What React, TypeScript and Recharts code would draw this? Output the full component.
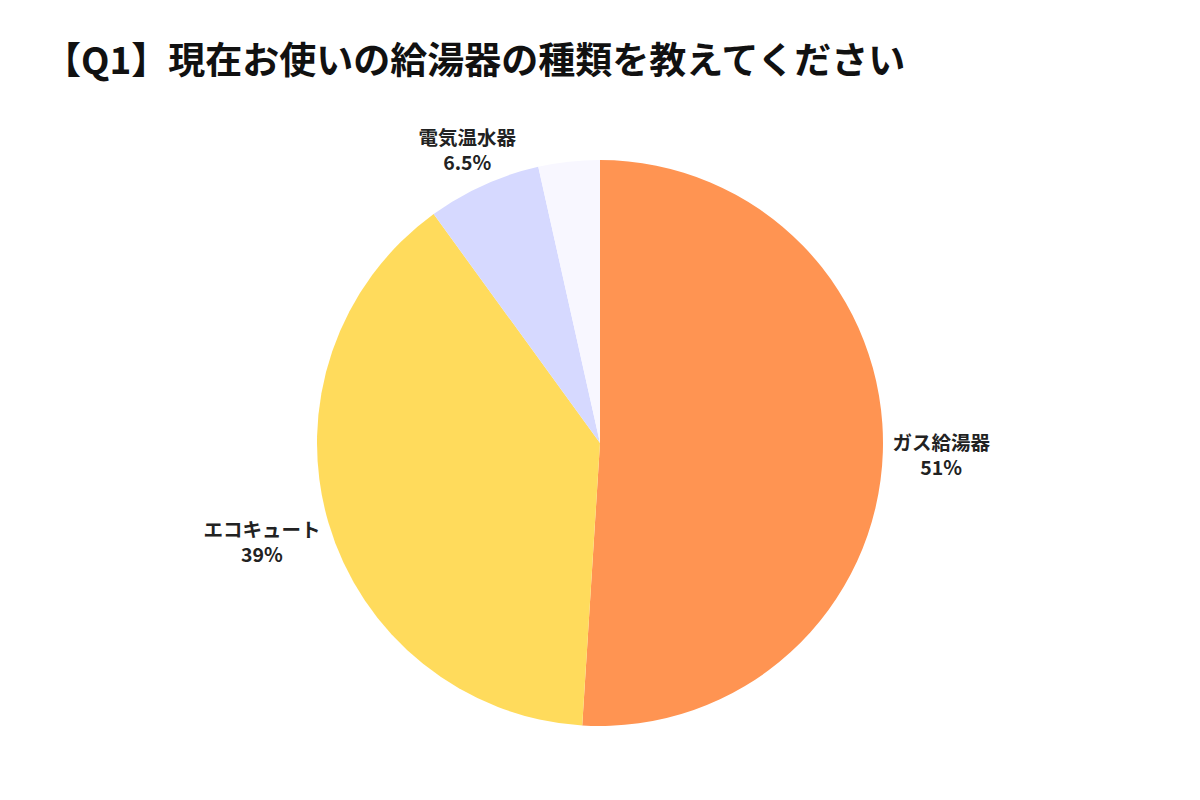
import { Cell, Pie, PieChart } from "recharts";

const categories = ["ガス給湯器", "エコキュート", "電気温水器", "その他"];
const shares = [51, 39, 6.5, 3.5];
const shareLabels = ["51%", "39%", "6.5%", ""];
const colors = ["#FF9452", "#FFDB5C", "#D6D9FF", "#F8F7FF"];

const data = categories.map((name, i) => ({
  name,
  value: shares[i],
  label: shareLabels[i],
}));

const FONT = '"Noto Sans CJK JP", "Noto Sans", sans-serif';
const RAD = Math.PI / 180;

// label block placed radially outside the slice, pushed out by half its size
function renderLabel(props: any) {
  const { cx, cy, midAngle, outerRadius, index } = props;
  const d = data[index];
  if (!d.label) return null;
  const w = d.name.length * 20;
  const h = 24;
  const c = Math.cos(-midAngle * RAD);
  const s = Math.sin(-midAngle * RAD);
  const dist = outerRadius + 8 + Math.abs(c) * (w / 2) + Math.abs(s) * (h / 2);
  const x = cx + dist * c;
  const y = cy + dist * s;
  return (
    <g>
      <text
        x={x}
        y={y - 4}
        textAnchor="middle"
        fill="#222"
        fontFamily={FONT}
        fontWeight={700}
        fontSize={19.5}
      >
        {d.name}
      </text>
      <text
        x={x}
        y={y + 21}
        textAnchor="middle"
        fill="#222"
        fontFamily={FONT}
        fontWeight={700}
        fontSize={19.5}
      >
        {d.label}
      </text>
    </g>
  );
}

export default function App() {
  return (
    <div
      style={{
        position: "absolute",
        left: 0,
        top: 0,
        width: 1200,
        height: 800,
        background: "#fff",
      }}
    >
      <div
        style={{
          position: "absolute",
          left: 44,
          top: 40,
          fontFamily: FONT,
          fontWeight: 700,
          fontSize: 37,
          lineHeight: 1,
          color: "#111",
          whiteSpace: "nowrap",
        }}
      >
        【Q1】現在お使いの給湯器の種類を教えてください
      </div>
      <PieChart width={1200} height={800}>
        <Pie
          data={data}
          dataKey="value"
          nameKey="name"
          cx={595}
          cy={438}
          outerRadius={283}
          startAngle={90}
          endAngle={-270}
          stroke="none"
          label={renderLabel}
          labelLine={false}
          isAnimationActive={false}
        >
          {data.map((d, i) => (
            <Cell key={d.name} fill={colors[i]} />
          ))}
        </Pie>
      </PieChart>
    </div>
  );
}
